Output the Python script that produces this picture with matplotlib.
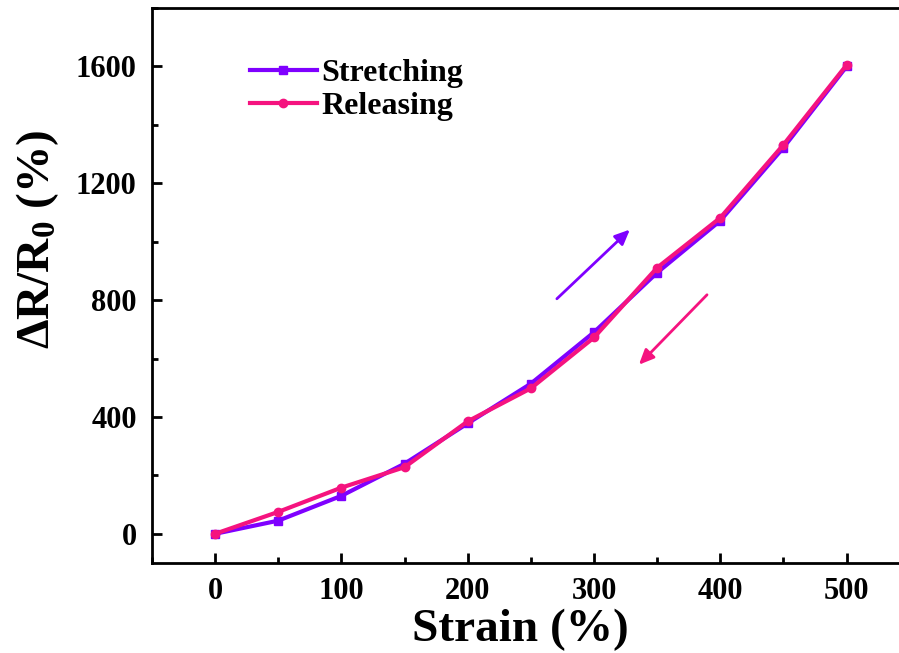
import numpy as np
import matplotlib
matplotlib.use('Agg')
import matplotlib.pyplot as plt
from matplotlib.ticker import MultipleLocator

plt.rcParams['font.family'] = 'Liberation Serif'
plt.rcParams['font.weight'] = 'bold'
plt.rcParams['mathtext.fontset'] = 'custom'
plt.rcParams['mathtext.rm'] = 'Liberation Serif:bold'
plt.rcParams['mathtext.default'] = 'rm'

strain = [0, 50, 100, 150, 200, 250, 300, 350, 400, 450, 500]
stretching = [0, 45, 130, 240, 378, 514, 690, 894, 1072, 1322, 1600]
releasing = [0, 75, 158, 228, 385, 498, 672, 911, 1082, 1332, 1605]

purple = '#7f00ff'
pink = '#f5137f'

fig = plt.figure(figsize=(8.99, 6.53), dpi=100)
ax = fig.add_axes([0.169, 0.1378, 0.843, 0.850])

ax.plot(strain, stretching, color=purple, lw=3, marker='s', ms=6, label='Stretching')
ax.plot(strain, releasing, color=pink, lw=3, marker='o', ms=6, label='Releasing')

# direction arrows
ax.annotate('', xy=(330, 1048), xytext=(269, 798),
            arrowprops=dict(arrowstyle='-|>,head_length=0.9,head_width=0.4', color=purple, lw=2))
ax.annotate('', xy=(334, 572), xytext=(391, 825),
            arrowprops=dict(arrowstyle='-|>,head_length=0.9,head_width=0.4', color=pink, lw=2))

ax.set_xlim(-50, 550)
ax.set_ylim(-100, 1800)
ax.xaxis.set_major_locator(MultipleLocator(100))
ax.xaxis.set_minor_locator(MultipleLocator(50))
ax.yaxis.set_major_locator(MultipleLocator(400))
ax.yaxis.set_minor_locator(MultipleLocator(200))
ax.tick_params(which='both', direction='in', width=2, labelsize=22)
ax.tick_params(which='major', length=7)
ax.tick_params(which='minor', length=4)
ax.tick_params(axis='x', pad=10)
ax.tick_params(axis='y', pad=11)
for s in ax.spines.values():
    s.set_linewidth(2)

ax.set_xlabel('Strain (%)', fontsize=34, fontweight='bold')
ax.xaxis.set_label_coords(0.486, -0.082)
ax.set_ylabel('ΔR/R$_0$ (%)', fontsize=34, fontweight='bold')
ax.yaxis.set_label_coords(-0.12, 0.584)

ax.legend(loc='upper left', bbox_to_anchor=(0.091, 0.96), frameon=False,
          fontsize=23, handlelength=2.1, handletextpad=0.15, labelspacing=0.1)

fig.savefig('out.png', dpi=100)
